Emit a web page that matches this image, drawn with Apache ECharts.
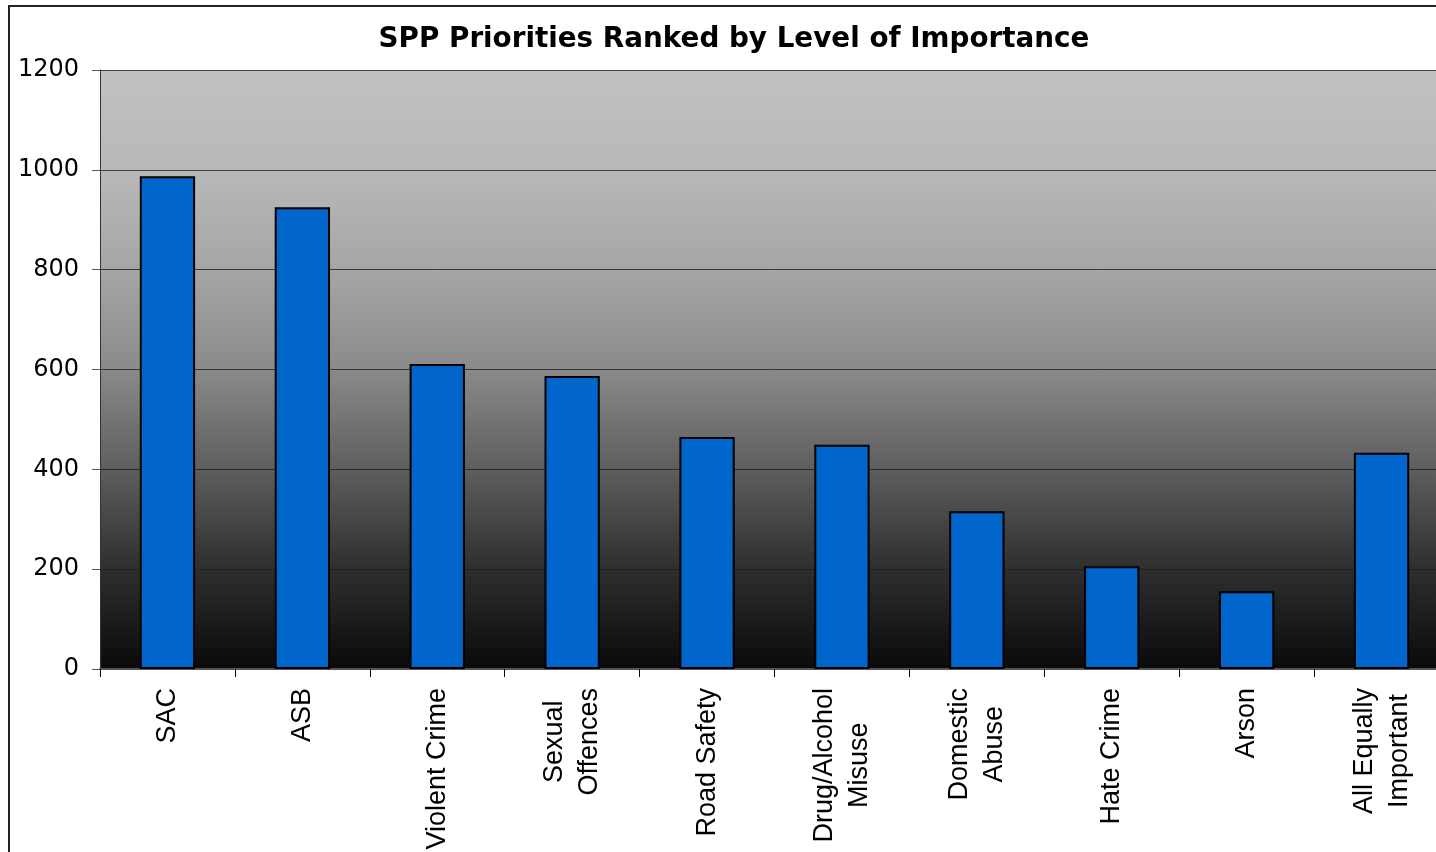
<!DOCTYPE html>
<html>
<head>
<meta charset="utf-8">
<title>SPP Priorities</title>
<script src="https://cdn.jsdelivr.net/npm/echarts@6/dist/echarts.min.js"></script>
<style>
  html, body { margin: 0; padding: 0; background: #fff; }
  #chart { width: 1436px; height: 852px; }
</style>
</head>
<body>
<div id="chart"></div>
<script>
  // data
  const categories = ['SAC', 'ASB', 'Violent Crime', 'Sexual\nOffences', 'Road Safety',
    'Drug/Alcohol\nMisuse', 'Domestic\nAbuse', 'Hate Crime', 'Arson', 'All Equally\nImportant']
  const values = [987, 925, 611, 587, 465, 449, 316, 206, 156, 433]
  const yTicks = [0, 200, 400, 600, 800, 1000, 1200]

  const chart = echarts.init(document.getElementById('chart'))

  // plot background: light grey at the top fading to black
  const plotBg = new echarts.graphic.LinearGradient(0, 0, 0, 1, [
    { offset: 0, color: '#c1c1c1' },
    { offset: 0.17, color: '#b8b8b8' },
    { offset: 0.33, color: '#a6a6a6' },
    { offset: 0.5, color: '#8a8a8a' },
    { offset: 0.67, color: '#5d5d5d' },
    { offset: 0.83, color: '#2f2f2f' },
    { offset: 1, color: '#0a0a0a' }
  ])

  chart.setOption({
    animation: false,
    backgroundColor: '#fff',
    title: {
      text: 'SPP Priorities Ranked by Level of Importance',
      left: 729,
      top: 21,
      textAlign: 'center',
      textStyle: {
        fontFamily: 'DejaVu Sans',
        fontWeight: 'bold',
        fontSize: 27.8,
        color: '#000'
      }
    },
    graphic: [{
      // outer chart frame (left and top edges visible)
      type: 'polyline',
      shape: { points: [[9, 852], [9, 6], [1436, 6]] },
      style: { stroke: '#222', lineWidth: 2, fill: null },
      silent: true
    }],
    grid: {
      left: 100,
      width: 1349, // plot runs past the right edge of the picture
      top: 70,
      height: 599,
      outerBoundsMode: 'none',
      containLabel: false,
      show: true,
      backgroundColor: plotBg,
      borderWidth: 0
    },
    xAxis: {
      type: 'category',
      data: categories,
      axisLine: { lineStyle: { color: '#555', width: 2 } },
      axisTick: { show: true, length: 8, lineStyle: { color: '#000' } },
      axisLabel: {
        rotate: 90,
        margin: 19,
        interval: 0,
        fontFamily: 'Liberation Sans',
        fontSize: 27,
        color: '#000',
        lineHeight: 35,
        formatter: v => v.split('\n').map(s => '{c|' + s + '}').join('\n'),
        rich: {
          c: { align: 'center', fontFamily: 'Liberation Sans', fontSize: 27, lineHeight: 35, color: '#000' }
        }
      }
    },
    yAxis: {
      type: 'value',
      min: yTicks[0],
      max: yTicks[yTicks.length - 1],
      interval: 200,
      axisLine: { show: true, lineStyle: { color: '#333', width: 1 } },
      axisTick: { show: true, length: 8, lineStyle: { color: '#555' } },
      axisLabel: {
        margin: 21,
        fontFamily: 'DejaVu Sans',
        fontSize: 24,
        color: '#000',
        formatter: v => String(v)
      },
      splitLine: { lineStyle: { color: '#1e1e1e', width: 1, opacity: 0.8 } }
    },
    series: [{
      type: 'bar',
      data: values,
      barWidth: '41%',
      itemStyle: {
        color: '#0066cc',
        borderColor: '#000',
        borderWidth: 2
      }
    }]
  })
</script>
</body>
</html>
